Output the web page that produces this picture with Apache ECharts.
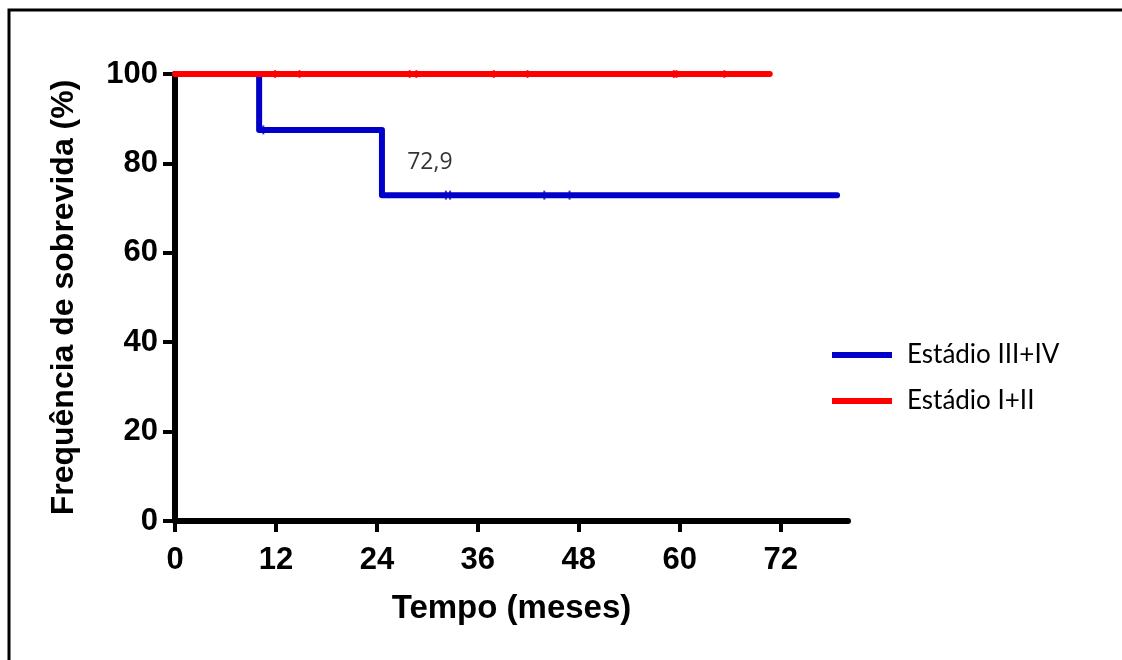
<!DOCTYPE html>
<html>
<head>
<meta charset="utf-8">
<script src="https://cdn.jsdelivr.net/npm/echarts@6/dist/echarts.min.js"></script>
<style>
html,body{margin:0;padding:0;background:#fff;}
#chart{width:1122px;height:660px;}
</style>
</head>
<body>
<div id="chart"></div>
<script>
// ---- data ----
const xTicks = [0, 12, 24, 36, 48, 60, 72];
const yTicks = [0, 20, 40, 60, 80, 100];
const seriesNames = ['Estádio III+IV', 'Estádio I+II'];
// Kaplan-Meier steps (time in months, survival %)
const stageIIIIVTimes = [0, 10, 24.6, 78.7];
const stageIIIIVSurv  = [100, 87.5, 72.9, 72.9];
const stageIIITimes   = [0, 70.7];
const stageIIISurv    = [100, 100];
// censored observations
const censorIIIIVTimes = [10.5, 32.2, 32.7, 43.9, 46.9];
const censorIIIIVSurv  = [87.5, 72.9, 72.9, 72.9, 72.9];
const censorIIITimes   = [11.9, 14.8, 27.9, 28.7, 37.9, 41.9, 59.3, 59.6, 65.3];
const censorIIISurv    = [100, 100, 100, 100, 100, 100, 100, 100, 100];
// annotation
const annotText = ['72,9'];
const annotPos  = [[30.3, 80.3]];

const zip = (a, b) => a.map((v, i) => [v, b[i]]);
const BLUE = '#0000C8', RED = '#FF0000';
const tickFont = {color:'#000', fontFamily:'"Liberation Sans", Arial, sans-serif', fontWeight:'bold', fontSize:31};

const chart = echarts.init(document.getElementById('chart'), null, {renderer:'canvas'});
chart.setOption({
  backgroundColor:'#fff',
  animation:false,
  graphic:[{type:'rect', shape:{x:9, y:10, width:1140, height:680}, style:{fill:'none', stroke:'#000', lineWidth:3}, silent:true, z:100}],
  grid:{left:175, top:74, right:274, bottom:139, containLabel:false},
  legend:{
    data:[{name:seriesNames[0], icon:'rect'}, {name:seriesNames[1], icon:'rect'}],
    orient:'vertical', left:827, top:335, itemWidth:60, itemHeight:6, itemGap:16,
    textStyle:{color:'#000', fontFamily:'Lato, "Open Sans", sans-serif', fontSize:26, lineHeight:30, padding:[0,0,0,10]},
    selectedMode:false
  },
  xAxis:{
    type:'value', min:0, max:80, interval:12,
    name:'Tempo (meses)', nameLocation:'middle', nameGap:71,
    nameTextStyle:{color:'#000', fontFamily:'"Liberation Sans", Arial, sans-serif', fontWeight:'bold', fontSize:33},
    axisLine:{show:true, onZero:false, lineStyle:{color:'#000', width:6, cap:'round'}},
    axisTick:{show:true, inside:false, length:11, lineStyle:{color:'#000', width:4}, customValues:xTicks},
    axisLabel:{...tickFont, margin:24, customValues:xTicks},
    splitLine:{show:false}
  },
  yAxis:{
    type:'value', min:0, max:100, interval:20,
    name:'Frequência de sobrevida (%)', nameLocation:'middle', nameGap:95, nameRotate:90,
    nameTextStyle:{color:'#000', fontFamily:'"Liberation Sans", Arial, sans-serif', fontWeight:'bold', fontSize:32},
    axisLine:{show:true, onZero:false, lineStyle:{color:'#000', width:6, cap:'round'}},
    axisTick:{show:true, inside:false, length:12, lineStyle:{color:'#000', width:4}, customValues:yTicks},
    axisLabel:{...tickFont, margin:17, customValues:yTicks},
    splitLine:{show:false}
  },
  series:[
    {name:seriesNames[0], type:'line', step:'end', data:zip(stageIIIIVTimes, stageIIIIVSurv), showSymbol:false, symbol:'none',
     color:BLUE, lineStyle:{color:BLUE, width:6, cap:'round', join:'round'}, z:3},
    {name:seriesNames[1], type:'line', step:'end', data:zip(stageIIITimes, stageIIISurv), showSymbol:false, symbol:'none',
     color:RED, lineStyle:{color:RED, width:6, cap:'round'}, z:4},
    {name:'censor1', type:'scatter', data:zip(censorIIIIVTimes, censorIIIIVSurv), symbol:'rect', symbolSize:[2,9],
     itemStyle:{color:BLUE}, z:3, silent:true},
    {name:'censor2', type:'scatter', data:zip(censorIIITimes, censorIIISurv), symbol:'rect', symbolSize:[2,8],
     itemStyle:{color:RED}, z:4, silent:true},
    {name:'annot', type:'scatter', data:annotPos, symbolSize:0, silent:true,
     label:{show:true, position:'inside', formatter:(p)=>annotText[p.dataIndex], color:'#000', fontFamily:'"Open Sans", Lato, sans-serif', fontSize:23}}
  ]
});
</script>
</body>
</html>
